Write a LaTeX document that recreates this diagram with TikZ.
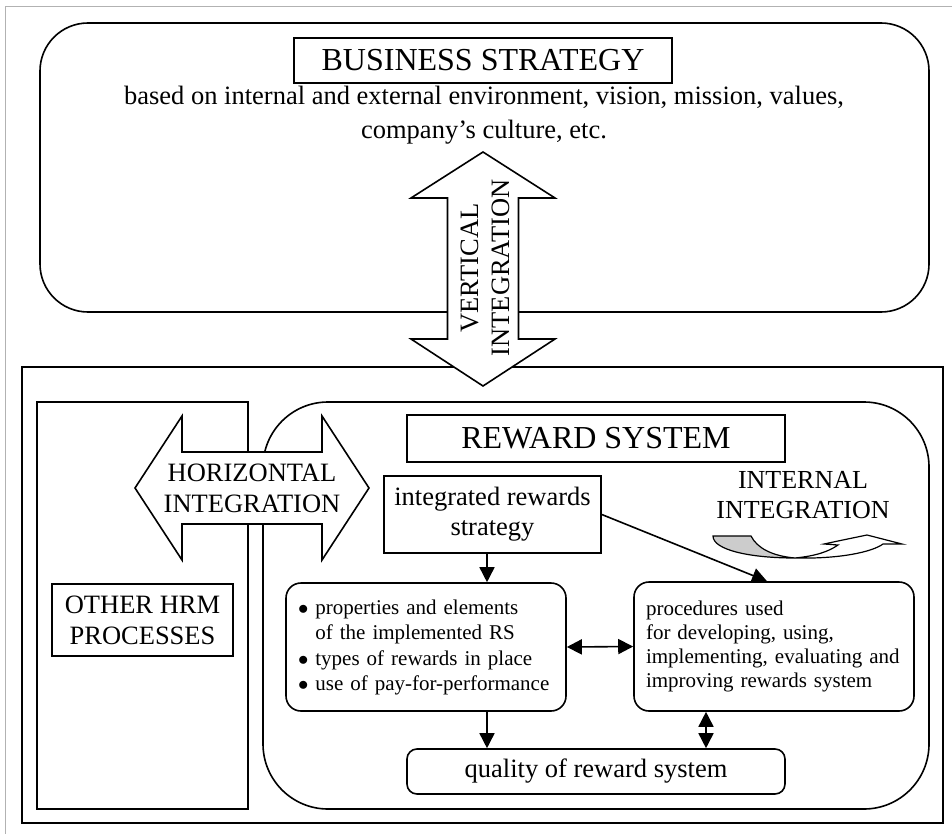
\documentclass[tikz,border=0pt]{standalone}
\usepackage{fontspec}
\setmainfont{Liberation Serif}
\usetikzlibrary{arrows.meta}

\begin{document}
\begin{tikzpicture}[x=1pt, y=-1pt, >={Triangle[length=15pt,width=15pt]}]
  % --- styles ---
  \tikzset{
    box/.style   = {draw, line width=1.6pt, inner sep=0pt},
    rbox/.style  = {box, rounded corners=15pt},
    ttl/.style   = {font=\fontsize{32}{36}\selectfont},
    txt/.style   = {font=\fontsize{26.5}{31}\selectfont, align=center},
    sml/.style   = {font=\fontsize{21}{25}\selectfont, align=left, text width=256pt},
    fat/.style   = {draw, fill=white, line width=1.6pt},
    conn/.style  = {->, line width=1.6pt},
    dconn/.style = {<->, line width=1.6pt}
  }
  \useasboundingbox (0,0) rectangle (952,834);
  \draw[gray!60, line width=1pt] (5,834) -- (5,7) -- (952,7);

  % --- big frames ---
  \node[box, rounded corners=48pt, minimum width=889pt, minimum height=289pt] (bs) at (484.5,167.5) {};
  \node[box, minimum width=921pt, minimum height=456pt] (lower) at (482.5,595) {};
  \node[box, minimum width=211pt, minimum height=407pt] (other) at (142.5,605.5) {};
  \node[box, rounded corners=65pt, minimum width=666pt, minimum height=407pt] (rs) at (596,605.5) {};

  % --- fat arrows (vertical / horizontal integration) ---
  \draw[fat] (483,152) -- (555,198) -- (518.5,198) -- (518.5,339) -- (555,339) -- (483,386)
    -- (411,339) -- (447.5,339) -- (447.5,198) -- (411,198) -- cycle;
  \draw[fat] (135,488) -- (182,416) -- (182,452) -- (322,452) -- (322,416) -- (369,488)
    -- (322,560) -- (322,524) -- (182,524) -- (182,560) -- cycle;
  \node[txt, rotate=90] (vint) at (485,268) {VERTICAL\\INTEGRATION};
  \node[txt] (hint) at (252,488) {HORIZONTAL\\INTEGRATION};

  % --- business strategy ---
  \node[box, ttl, minimum width=378pt, minimum height=45pt] (bstitle) at (483,60.5) {BUSINESS STRATEGY};
  \node[txt, font=\fontsize{26.5}{34}\selectfont] (bstext) at (484,115)
    {based on internal and external environment, vision, mission, values,\\company’s culture, etc.};

  % --- other HRM processes ---
  \node[box, txt, minimum width=181pt, minimum height=72pt] (othertitle) at (142.5,620) {OTHER HRM\\PROCESSES};

  % --- reward system ---
  \node[box, ttl, minimum width=378pt, minimum height=47pt] (rstitle) at (596,438.5) {REWARD SYSTEM};
  \node[box, txt, font=\fontsize{26.5}{30}\selectfont, minimum width=217pt, minimum height=77pt] (irs) at (492.5,514.5)
    {integrated rewards\\strategy};
  \node[rbox, sml, minimum width=280pt, minimum height=128pt] (props) at (426,647)
    {$\bullet$ properties and elements\\\phantom{$\bullet$ }of the implemented RS\\[1pt]
     $\bullet$ types of rewards in place\\$\bullet$ use of pay-for-performance};
  \node[rbox, sml, font=\fontsize{21}{24}\selectfont, minimum width=280pt, minimum height=129pt] (proc) at (774,646.5)
    {procedures used\\for developing, using,\\implementing, evaluating and\\improving rewards system};
  \node[box, txt, rounded corners=10pt, minimum width=378pt, minimum height=45pt] (qual) at (596,771.5)
    {quality of reward system};

  % --- internal integration ---
  \node[txt, font=\fontsize{26}{30}\selectfont] (iint) at (803,495) {INTERNAL\\INTEGRATION};
  \draw[line width=1.2pt, fill=gray!40] (713,536) -- (751,536) .. controls (757,548) and (772,556) .. (795,558)
    .. controls (750,558) and (713,550) .. (713,536) -- cycle;
  \draw[line width=1.2pt, fill=white] (795,558) .. controls (840,559) and (872,552) .. (883,544) -- (902,544)
    -- (867,535) -- (838,541) -- (824,544) -- (838,545) .. controls (828,552) and (815,556) .. (795,558) -- cycle;

  % --- connectors ---
  \coordinate (ax) at (487,0);
  \coordinate (bx) at (706,0);
  \draw[conn] (irs.south -| ax) -- (props.north -| ax);
  \draw[conn] (irs.east) -- ([xshift=-7pt]proc.north);
  \draw[dconn] (props.east) -- (proc.west);
  \draw[conn] (props.south -| ax) -- (qual.north -| ax);
  \draw[dconn] (proc.south -| bx) -- (qual.north -| bx);
\end{tikzpicture}
\end{document}
